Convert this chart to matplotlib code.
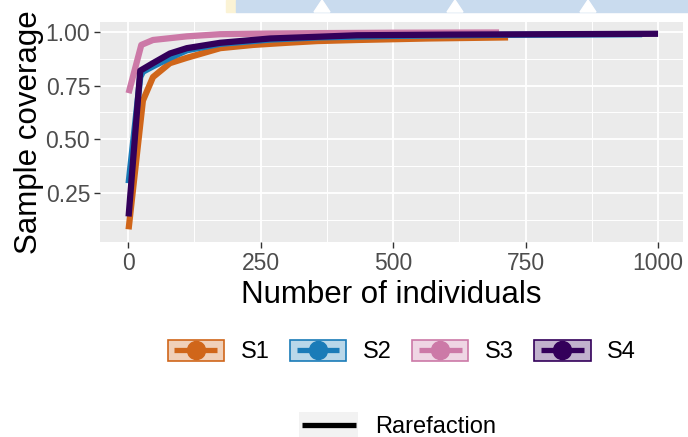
import numpy as np
import matplotlib
matplotlib.use("Agg")
import matplotlib.pyplot as plt
from matplotlib.lines import Line2D
from matplotlib.patches import Rectangle, Polygon
from matplotlib.legend_handler import HandlerBase
from matplotlib.colors import to_rgba

plt.rcParams['font.family'] = ['Liberation Sans', 'DejaVu Sans']

# sample coverage curves (rarefaction part only)
names = ['S1', 'S2', 'S3', 'S4']
colors = ['#D0661A', '#1A7BB8', '#CC79A7', '#33005A']

s1_x = [1, 28, 47, 79, 111, 174, 236, 300, 357, 432, 565, 717]
s1_y = [0.08, 0.68, 0.79, 0.855, 0.88, 0.925, 0.94, 0.95, 0.958, 0.963, 0.97, 0.975]
s2_x = [1, 23, 28, 47, 79, 111, 174, 268, 357, 500, 700, 970]
s2_y = [0.295, 0.79, 0.815, 0.84, 0.88, 0.915, 0.945, 0.965, 0.975, 0.982, 0.987, 0.99]
s3_x = [1, 25, 47, 111, 174, 268, 357, 500, 700]
s3_y = [0.715, 0.94, 0.963, 0.98, 0.99, 0.993, 0.995, 0.997, 0.998]
s4_x = [1, 23, 47, 79, 111, 174, 268, 357, 432, 600, 800, 1000]
s4_y = [0.14, 0.82, 0.855, 0.9, 0.925, 0.95, 0.97, 0.978, 0.985, 0.988, 0.99, 0.992]

xs = [s1_x, s2_x, s3_x, s4_x]
ys = [s1_y, s2_y, s3_y, s4_y]


class Key:
    def __init__(self, color, fill, edge, marker, pad):
        self.color, self.fill, self.edge = color, fill, edge
        self.marker, self.pad = marker, pad


class KeyHandler(HandlerBase):
    def create_artists(self, legend, h, xd, yd, width, height, fontsize, trans):
        x0, y0 = -xd, -yd
        ym = y0 + height / 2
        arts = [Rectangle((x0, y0), width, height, facecolor=h.fill,
                          edgecolor=h.edge, lw=1.2, transform=trans)]
        arts.append(Line2D([x0 + h.pad, x0 + width - h.pad], [ym, ym], color=h.color,
                           lw=3.8, solid_capstyle='butt', transform=trans))
        if h.marker:
            arts.append(Line2D([x0 + width / 2], [ym], marker='o', ms=13,
                               color=h.color, lw=0, transform=trans))
        return arts


fig = plt.figure(figsize=(6.88, 4.37), dpi=100)
ax = fig.add_axes([0.1453, 0.4462, 0.8474, 0.5035])
ax.set_facecolor('#EBEBEB')

for x, y, c in zip(xs, ys, colors):
    ax.plot(x, y, color=c, lw=4.5, solid_capstyle='butt', zorder=3)

ax.set_xlim(-53, 1047)
ax.set_ylim(0.021, 1.047)
ax.set_xticks([0, 250, 500, 750, 1000])
ax.set_yticks([0.25, 0.5, 0.75, 1.0])
ax.set_yticklabels(['0.25', '0.50', '0.75', '1.00'])
ax.set_xticks([125, 375, 625, 875], minor=True)
ax.set_yticks([0.125, 0.375, 0.625, 0.875], minor=True)
ax.grid(which='major', color='white', lw=1.3)
ax.grid(which='minor', color='white', lw=0.7)
ax.set_axisbelow(True)
for s in ax.spines.values():
    s.set_visible(False)
ax.tick_params(which='major', length=4, color='#333333', width=1,
               labelsize=16.5, labelcolor='#4D4D4D', pad=3)
ax.tick_params(which='minor', length=0)
ax.set_xlabel('Number of individuals', fontsize=22.5, labelpad=4)
ax.set_ylabel('Sample coverage', fontsize=22.5, labelpad=1)

# legend: ribbon box + line/point
keys = [Key(c, to_rgba(c, 0.3), c, True, 5) for c in colors]
fig.legend(keys, names, handler_map={Key: KeyHandler()}, loc='center',
           bbox_to_anchor=(0.584, 0.195), ncol=4, frameon=False, fontsize=17,
           handlelength=2.4, handleheight=0.95, handletextpad=0.7,
           columnspacing=0.85, borderpad=0.2)

rare = Key('black', '#F2F2F2', 'none', False, 2)
fig.legend([rare], ['Rarefaction'], handler_map={Key: KeyHandler()}, loc='center',
           bbox_to_anchor=(0.578, 0.027), frameon=False, fontsize=17,
           handlelength=2.5, handleheight=1.3, handletextpad=0.7, borderpad=0.2)

# screenshot banner at the top edge
fig.patches.append(Rectangle((226 / 688, 1 - 12 / 437), 10 / 688, 12 / 437,
                             transform=fig.transFigure, color='#FBF3D5', zorder=0))
fig.patches.append(Rectangle((236 / 688, 1 - 12 / 437), 452 / 688, 12 / 437,
                             transform=fig.transFigure, color='#C9DBEE', zorder=0))
for px in [322, 455, 588]:
    fig.patches.append(Polygon([((px - 8) / 688, 1 - 12 / 437), ((px + 8) / 688, 1 - 12 / 437),
                                (px / 688, 1.0)], closed=True,
                               transform=fig.transFigure, color='white', zorder=1))

fig.savefig('out.png', dpi=100)
